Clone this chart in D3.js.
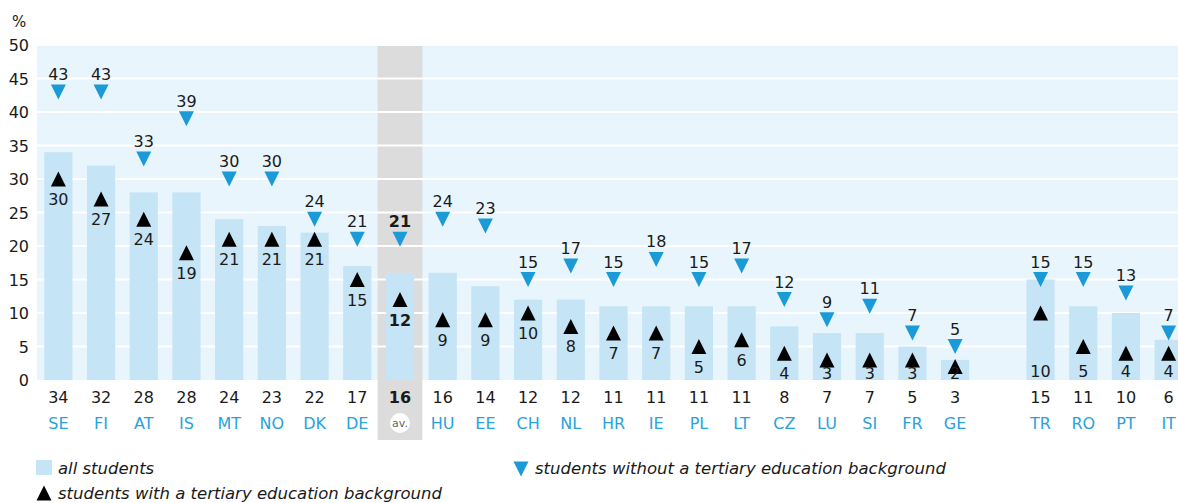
<!DOCTYPE html>
<html><head><meta charset="utf-8">
<script src="https://cdn.jsdelivr.net/npm/d3@7"></script>
<style>
html,body{margin:0;padding:0;background:#fff;overflow:hidden;}
svg{display:block;font-family:"DejaVu Sans",sans-serif;}
</style></head>
<body><svg id="c" width="1178" height="503"></svg>
<script>
const countriesMain = ["SE","FI","AT","IS","MT","NO","DK","DE","av.","HU","EE","CH","NL","HR","IE","PL","LT","CZ","LU","SI","FR","GE"];
const countriesRight = ["TR","RO","PT","IT"];
const allStudents   = [34,32,28,28,24,23,22,17,16,16,14,12,12,11,11,11,11,8,7,7,5,3, 15,11,10,6];
const withTertiary  = [30,27,24,19,21,21,21,15,12,9,9,10,8,7,7,5,6,4,3,3,3,2, 10,5,4,4];
const withoutTertiary = [43,43,33,39,30,30,24,21,21,24,23,15,17,15,18,15,17,12,9,11,7,5, 15,15,13,7];
const yTicks = [0,5,10,15,20,25,30,35,40,45,50];
const legendLabels = ["all students","students with a tertiary education background","students without a tertiary education background"];

const svg = d3.select("#c");
const barColor = "#c5e4f5", bgColor = "#e9f5fc", blue = "#1a9ad6", codeBlue = "#29a2dc", ink = "#1a1a1a";
const W = 1178;

const countries = countriesMain.concat(countriesRight);
const rows = countries.map((c,i)=>({c, all:allStudents[i], w:withTertiary[i], wo:withoutTertiary[i], right: i>=countriesMain.length, av: c==="av."}));
const domain = countriesMain.concat(["_gap"], countriesRight);

const x = d3.scaleBand().domain(domain).range([37,1190]).paddingInner(0.34).paddingOuter(0.17);
const y = d3.scaleLinear().domain([0,50]).range([380,45]);
const step = x.step();
const cx = c => x(c) + x.bandwidth()/2;

// background
svg.append("rect").attr("x",37).attr("y",y(50)).attr("width",W-37).attr("height",y(0)-y(50)).attr("fill",bgColor);
// grey average column
svg.append("rect").attr("x",cx("av.")-step/2-1).attr("y",y(50)).attr("width",step+2).attr("height",440-y(50)).attr("fill","#dcdcdc");
// gridlines
svg.append("g").selectAll("line").data(yTicks.filter(t=>t>0)).join("line")
  .attr("x1",37).attr("x2",W).attr("y1",d=>y(d)).attr("y2",d=>y(d))
  .attr("stroke","#fff").attr("stroke-width",2);
// y axis labels
const yAxis = d3.axisLeft(y).tickValues(yTicks).tickSize(0).tickPadding(0);
const ga = svg.append("g").attr("transform","translate(29,0)").call(yAxis);
ga.select(".domain").remove();
ga.selectAll("text").attr("font-size",16).attr("fill",ink).attr("font-family","DejaVu Sans, sans-serif").attr("dy","0.36em");
svg.append("text").attr("x",12).attr("y",27).attr("font-size",15).attr("fill",ink).text("%");

// bars
svg.append("g").selectAll("rect").data(rows).join("rect")
  .attr("x",d=>x(d.c)).attr("width",x.bandwidth())
  .attr("y",d=>y(d.all)).attr("height",d=>y(0)-y(d.all)).attr("fill",barColor);

const triDown = d3.symbol().type({draw(ctx){ctx.moveTo(-7.5,-7.5);ctx.lineTo(7.5,-7.5);ctx.lineTo(0,7.5);ctx.closePath();}})();
const triUp = d3.symbol().type({draw(ctx){ctx.moveTo(-7.5,7.5);ctx.lineTo(7.5,7.5);ctx.lineTo(0,-7.5);ctx.closePath();}})();

// down triangles (without)
const gd = svg.append("g");
gd.selectAll("path").data(rows).join("path").attr("d",triDown)
  .attr("transform",d=>`translate(${cx(d.c)},${y(d.wo)})`).attr("fill",blue);
gd.selectAll("text").data(rows).join("text")
  .attr("x",d=>cx(d.c)).attr("y",d=>y(d.wo)-12).attr("text-anchor","middle")
  .attr("font-size",16).attr("font-weight",d=>d.av?"bold":"normal").attr("fill",ink).text(d=>d.wo);

// up triangles (with)
const gu = svg.append("g");
gu.selectAll("path").data(rows).join("path").attr("d",triUp)
  .attr("transform",d=>`translate(${cx(d.c)},${y(d.w)})`).attr("fill","#000");
gu.selectAll("text").data(rows).join("text")
  .attr("x",d=>cx(d.c)).attr("y",d=>d.right? 377 : Math.min(y(d.w)+26, 379)).attr("text-anchor","middle")
  .attr("font-size",16).attr("font-weight",d=>d.av?"bold":"normal").attr("fill",ink).text(d=>d.w);

// bottom values
svg.append("g").selectAll("text").data(rows).join("text")
  .attr("x",d=>cx(d.c)).attr("y",403).attr("text-anchor","middle")
  .attr("font-size",16).attr("font-weight",d=>d.av?"bold":"normal").attr("fill",ink).text(d=>d.all);
// country codes
const gc = svg.append("g");
gc.selectAll("circle").data(rows.filter(d=>d.av)).join("circle")
  .attr("cx",d=>cx(d.c)).attr("cy",423).attr("r",10).attr("fill","#fff");
gc.selectAll("text").data(rows).join("text")
  .attr("x",d=>cx(d.c)).attr("y",d=>d.av?427:429).attr("text-anchor","middle")
  .attr("font-size",d=>d.av?11:16).attr("fill",d=>d.av?"#666":codeBlue).text(d=>d.c);

// legend
const lg = svg.append("g");
lg.append("rect").attr("x",36).attr("y",460).attr("width",16).attr("height",15).attr("fill",barColor);
lg.append("text").attr("x",58).attr("y",474).attr("font-size",16.5).attr("font-style","italic").attr("fill",ink).text(legendLabels[0]);
lg.append("path").attr("d",triUp).attr("transform","translate(44,493)").attr("fill","#000");
lg.append("text").attr("x",58).attr("y",499).attr("font-size",16.5).attr("font-style","italic").attr("fill",ink).text(legendLabels[1]);
lg.append("path").attr("d",triDown).attr("transform","translate(521,469)").attr("fill",blue);
lg.append("text").attr("x",535).attr("y",474).attr("font-size",16.5).attr("font-style","italic").attr("fill",ink).text(legendLabels[2]);
</script></body></html>
